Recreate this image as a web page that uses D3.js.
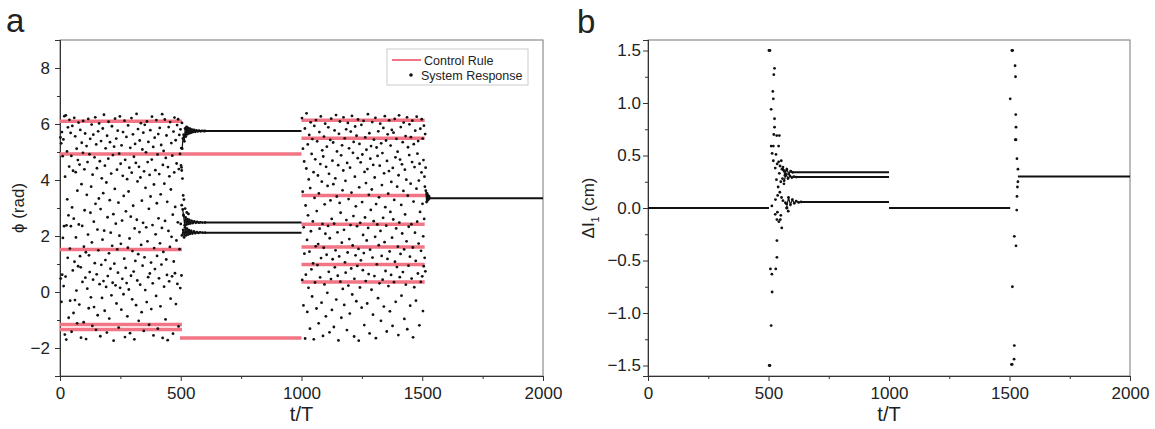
<!DOCTYPE html>
<meta charset="utf-8">
<head>
  <script src="https://d3js.org/d3.v7.min.js"></script>
  <style>
    body { margin: 0; background: #fff; }
    svg text { font-family: "Liberation Sans", Arial, sans-serif; fill: #222; }
    .tick text { font-size: 17px; }
    .ttl { font-size: 20px; }
    .ylab { font-size: 17px; }
    .pan { font-size: 33px; }
    .leg { font-size: 12.5px; }
  </style>
</head>
<body>
<svg id="fig" width="1155" height="429"></svg>
<script>
"use strict"

// ---- shared axis data ----
var tDomain = [0, 2000];
var tMajor = [0, 500, 1000, 1500, 2000];
var tMinor = [250, 750, 1250, 1750];

// ---- panel a: phase ----
var phiDomain = [-3, 9];
var phiMajor = [-2, 0, 2, 4, 6, 8];
var phiMinor = [-3, -1, 1, 3, 5, 7];

// control rule segments [t start, t end, phi]
var ruleA = [
  [0, 505, 6.1], [0, 1000, 4.93], [0, 505, 1.52], [0, 505, -1.16], [0, 505, -1.34],
  [497, 1000, -1.64],
  [1000, 1510, 6.13], [1000, 1510, 5.49], [1000, 1525, 3.45], [1000, 1510, 2.42],
  [1000, 1510, 1.61], [1000, 1510, 0.98], [1000, 1510, 0.36]
];

// settled response [t start, t end, phi]
var steadyA = [[600, 1000, 5.75], [600, 1000, 2.48], [600, 1000, 2.12], [1530, 2000, 3.35]];

// uncontrolled response, 0-500
var scatterA1 = [
  [2,5.52],[3,0.48],[5,5.31],[6,-0.35],[8,5.71],[9,0.62],[11,4.85],[12,1.93],[14,5.45],[15,0.21],
  [17,2.35],[18,6.28],[20,-1.52],[21,4.12],[23,0.55],[24,6.31],[26,-1.70],[27,2.38],[29,5.02],[30,3.31],
  [32,1.22],[33,5.88],[35,2.74],[36,-0.92],[38,4.48],[39,6.15],[41,1.55],[42,-0.31],[44,5.68],[45,2.35],
  [47,4.86],[48,-1.42],[50,3.02],[51,5.93],[53,0.77],[54,4.33],[56,-0.75],[57,2.62],[59,6.22],[60,1.08],
  [62,-0.29],[63,5.56],[65,4.28],[66,1.95],[68,0.05],[69,5.12],[71,-1.12],[72,3.62],[74,4.71],[75,0.92],
  [77,6.05],[78,2.41],[80,-0.45],[81,4.55],[83,1.28],[84,5.79],[86,0.88],[87,-1.63],[89,3.85],[90,5.33],
  [92,2.36],[93,0.36],[95,4.97],[96,6.11],[98,-1.08],[99,1.62],[101,4.38],[102,2.92],[104,5.66],[105,0.51],
  [107,1.42],[108,-1.68],[110,5.21],[111,3.47],[113,0.12],[114,4.64],[116,2.05],[117,6.18],[119,-0.58],[120,1.31],
  [122,4.92],[123,0.71],[125,5.47],[126,2.83],[128,-0.19],[129,3.76],[131,5.98],[132,1.77],[134,-1.21],[135,4.19],
  [137,0.44],[138,5.62],[140,2.51],[141,-0.54],[143,4.81],[144,1.03],[146,6.24],[147,3.15],[149,-1.35],[150,5.27],
  [152,0.63],[153,4.42],[155,2.23],[156,-0.83],[158,5.74],[159,1.49],[161,3.34],[162,6.02],[164,0.28],[165,4.67],
  [167,-1.58],[168,2.96],[170,5.39],[171,0.97],[173,4.06],[174,-0.21],[176,1.87],[177,5.84],[179,3.53],[180,0.39],
  [182,6.33],[183,2.19],[185,-0.67],[186,4.51],[188,1.14],[189,5.13],[191,0.18],[192,3.91],[194,-1.45],[195,5.58],
  [197,2.67],[198,0.57],[200,4.76],[201,6.08],[203,1.38],[204,-0.95],[206,3.28],[207,5.35],[209,0.83],[210,2.12],
  [212,4.23],[213,-0.12],[215,5.92],[216,1.65],[218,0.33],[219,4.89],[221,2.78],[222,-1.74],[224,5.19],[225,1.01],
  [227,3.68],[228,6.19],[230,0.24],[231,2.44],[233,5.48],[234,-0.41],[236,4.37],[237,1.52],[239,5.76],[240,0.69],
  [242,3.19],[243,-1.27],[245,4.94],[246,2.01],[248,6.27],[249,0.15],[251,4.58],[252,1.72],[254,-0.63],[255,5.24],
  [257,2.55],[258,0.47],[260,4.15],[261,5.71],[263,-0.08],[264,3.43],[266,1.19],[267,6.12],[269,-1.61],[270,4.72],
  [272,0.86],[273,2.88],[275,5.54],[276,0.32],[278,4.03],[279,-0.87],[281,1.58],[282,5.95],[284,3.59],[285,0.09],
  [287,4.44],[288,1.91],[290,-1.47],[291,5.15],[293,2.69],[294,0.58],[296,6.21],[297,4.26],[299,-0.26],[300,1.46],
  [302,5.63],[303,3.08],[305,0.73],[306,4.83],[308,-1.69],[309,2.27],[311,5.29],[312,1.11],[314,4.61],[315,-0.47],
  [317,6.36],[318,2.58],[320,0.41],[321,3.95],[323,5.82],[324,1.35],[326,-1.03],[327,4.47],[329,2.14],[330,5.41],
  [332,0.26],[333,4.09],[335,6.03],[336,1.68],[338,-0.72],[339,3.26],[341,5.09],[342,0.94],[344,2.47],[345,5.69],
  [347,-1.39],[348,4.31],[350,1.24],[351,5.97],[353,0.07],[354,3.72],[356,4.99],[357,2.31],[359,-0.36],[360,6.09],
  [362,1.81],[363,4.64],[365,0.53],[366,5.36],[368,2.97],[369,-1.17],[371,4.18],[372,0.66],[374,5.78],[375,3.41],
  [377,1.05],[378,-0.61],[380,4.73],[381,6.26],[383,2.39],[384,0.31],[386,5.18],[387,-1.55],[389,3.84],[390,1.57],
  [392,5.51],[393,0.82],[395,4.35],[396,2.06],[398,-0.14],[399,6.14],[401,3.17],[402,1.29],[404,4.91],[405,-1.31],
  [407,5.64],[408,2.63],[410,0.49],[411,4.21],[413,5.86],[414,1.74],[416,-0.51],[417,3.49],[419,5.25],[420,0.98],
  [422,2.29],[423,6.35],[425,-1.64],[426,4.54],[428,1.43],[429,5.04],[431,0.19],[432,3.87],[434,6.16],[435,2.54],
  [437,-0.98],[438,4.79],[440,1.16],[441,5.59],[443,0.61],[444,3.22],[446,-1.72],[447,4.46],[449,2.18],[450,5.89],
  [452,0.38],[453,4.13],[455,1.61],[456,6.07],[458,-0.24],[459,3.66],[461,5.32],[462,1.97],[464,0.56],[465,4.87],
  [467,2.76],[468,-1.49],[470,5.73],[471,1.09],[473,4.27],[474,6.23],[476,0.67],[477,3.04],[479,5.42],[480,-0.43],
  [482,1.84],[483,4.59],[485,5.96],[486,0.29],[488,2.49],[489,6.17],[491,-1.23],[492,4.39],[494,5.61],[495,1.53],
  [497,4.93],[498,0.14],[499,5.81],[500,2.43],[501,4.52],[502,5.14],[503,0.59],[504,4.34],[505,6.04]
];

// uncontrolled response, 1000-1510
var scatterA3 = [
  [1002,6.21],[1003,0.43],[1005,3.58],[1006,5.12],[1008,-0.48],[1009,2.31],[1011,4.66],[1012,1.37],[1014,5.84],[1015,-1.66],
  [1017,3.09],[1018,0.62],[1020,4.41],[1021,6.38],[1023,1.86],[1024,-0.71],[1026,5.27],[1027,2.74],[1029,0.15],[1030,4.02],
  [1032,5.61],[1033,1.44],[1035,-1.31],[1036,3.71],[1038,6.06],[1039,2.17],[1041,0.81],[1042,4.93],[1044,-0.16],[1045,5.46],
  [1047,2.52],[1048,1.02],[1050,4.28],[1051,-1.69],[1053,5.93],[1054,3.36],[1056,0.34],[1057,4.74],[1059,1.63],[1060,6.14],
  [1062,-0.59],[1063,2.89],[1065,5.38],[1066,0.96],[1068,4.16],[1069,1.71],[1071,-1.12],[1072,3.52],[1074,5.71],[1075,2.26],
  [1077,0.52],[1078,4.57],[1080,6.27],[1081,1.21],[1083,-0.38],[1084,3.94],[1086,5.06],[1087,2.43],[1089,-1.57],[1090,4.84],
  [1092,1.58],[1093,5.55],[1095,0.27],[1096,3.13],[1098,6.01],[1099,2.08],[1101,-0.87],[1102,4.47],[1104,1.33],[1105,5.19],
  [1107,-0.03],[1108,3.79],[1110,2.36],[1111,5.88],[1113,0.72],[1114,4.22],[1116,-1.44],[1117,1.92],[1119,5.43],[1120,3.27],
  [1122,0.46],[1123,6.19],[1125,2.61],[1126,-0.64],[1128,4.69],[1129,1.17],[1131,5.34],[1132,3.85],[1134,-1.25],[1135,2.44],
  [1137,5.77],[1138,0.88],[1140,4.06],[1141,1.49],[1143,6.32],[1144,-0.27],[1146,3.41],[1147,5.02],[1149,2.13],[1150,0.58],
  [1152,4.53],[1153,-1.73],[1155,5.65],[1156,1.27],[1158,3.18],[1159,6.09],[1161,0.37],[1162,2.83],[1164,4.88],[1165,-0.92],
  [1167,1.76],[1168,5.24],[1170,3.63],[1171,0.11],[1173,4.34],[1174,6.24],[1176,2.22],[1177,-0.46],[1179,5.49],[1180,1.06],
  [1182,3.97],[1183,0.69],[1185,5.81],[1186,2.57],[1188,-1.36],[1189,4.61],[1191,1.41],[1192,6.04],[1194,0.23],[1195,3.32],
  [1197,5.13],[1198,1.89],[1200,-0.77],[1201,4.44],[1203,2.39],[1204,5.73],[1206,0.84],[1207,3.55],[1209,6.29],[1210,-0.09],
  [1212,1.66],[1213,4.97],[1215,2.71],[1216,5.36],[1218,-1.59],[1219,0.47],[1221,4.12],[1222,5.91],[1224,1.31],[1225,3.06],
  [1227,-0.33],[1228,5.58],[1230,2.35],[1231,0.93],[1233,4.78],[1234,6.16],[1236,1.54],[1237,-1.74],[1239,3.74],[1240,5.29],
  [1242,0.16],[1243,2.47],[1245,4.63],[1246,1.13],[1248,5.97],[1249,-0.56],[1251,3.21],[1252,4.91],[1254,0.78],[1255,2.04],
  [1257,6.11],[1258,1.39],[1260,-1.18],[1261,4.29],[1263,2.66],[1264,5.52],[1266,0.39],[1267,3.89],[1269,5.08],[1270,1.84],
  [1272,-0.41],[1273,4.39],[1275,6.35],[1276,2.29],[1278,0.64],[1279,3.47],[1281,5.67],[1282,-1.48],[1284,1.51],[1285,4.76],
  [1287,2.93],[1288,5.21],[1290,0.08],[1291,3.66],[1293,6.07],[1294,1.23],[1296,-0.81],[1297,4.54],[1299,2.53],[1300,5.44],
  [1302,0.57],[1303,4.09],[1305,1.97],[1306,6.22],[1308,-1.65],[1309,3.14],[1311,5.16],[1312,0.99],[1314,2.41],[1315,4.86],
  [1317,-0.22],[1318,5.74],[1320,1.67],[1321,3.38],[1323,0.31],[1324,4.51],[1326,6.01],[1327,2.18],[1329,-1.03],[1330,5.31],
  [1332,1.29],[1333,3.82],[1335,4.96],[1336,0.44],[1338,2.65],[1339,5.86],[1341,-0.52],[1342,4.24],[1344,1.78],[1345,6.28],
  [1347,3.03],[1348,0.75],[1350,5.41],[1351,2.37],[1353,-1.41],[1354,4.68],[1356,1.18],[1357,5.63],[1359,3.51],[1360,0.21],
  [1362,4.32],[1363,6.13],[1365,1.45],[1366,-0.69],[1368,2.86],[1369,5.23],[1371,0.61],[1372,3.93],[1374,5.79],[1375,1.94],
  [1377,-1.21],[1378,4.43],[1380,2.59],[1381,5.69],[1383,0.35],[1384,3.29],[1386,6.18],[1387,1.08],[1389,4.81],[1390,-0.35],
  [1392,2.27],[1393,5.47],[1395,0.89],[1396,3.76],[1398,5.01],[1399,1.62],[1401,-1.54],[1402,4.17],[1404,6.31],[1405,2.48],
  [1407,0.53],[1408,4.73],[1410,1.36],[1411,5.89],[1413,3.11],[1414,-0.13],[1416,4.56],[1417,2.09],[1419,5.35],[1420,0.71],
  [1422,3.61],[1423,6.05],[1425,1.52],[1426,-0.96],[1428,4.37],[1429,2.77],[1431,5.57],[1432,0.26],[1434,4.01],[1435,1.81],
  [1437,6.24],[1438,-1.33],[1440,3.44],[1441,5.17],[1443,0.94],[1444,2.33],[1446,4.89],[1447,5.99],[1449,1.26],[1450,-0.49],
  [1452,3.87],[1453,5.53],[1455,2.42],[1456,0.48],[1458,4.64],[1459,6.12],[1461,1.59],[1462,-1.62],[1464,3.23],[1465,5.28],
  [1467,0.17],[1468,4.46],[1470,2.12],[1471,5.76],[1473,1.11],[1474,-0.31],[1476,3.69],[1477,6.26],[1479,2.51],[1480,4.94],
  [1482,0.66],[1483,5.39],[1485,1.73],[1486,3.98],[1488,-1.19],[1489,4.58],[1491,2.86],[1492,5.83],[1494,0.36],[1495,1.47],
  [1497,4.27],[1498,6.17],[1500,0.56],[1501,3.15],[1502,5.48],[1503,-0.68],[1504,1.99],[1505,4.71],[1506,0.92],[1507,5.94],
  [1508,2.61],[1509,4.12],[1510,1.22],[1511,3.76],[1512,5.64],[1513,0.74],[1514,4.44]
];

// transients after the control is switched on (drawn as linked dots)
var branchA = [
  [[506,5.12],[509,5.48],[512,5.62],[515,5.38],[518,5.84],[521,5.55],[524,5.90],[527,5.63],[530,5.86],[534,5.67],
   [538,5.83],[542,5.69],[546,5.80],[550,5.71],[555,5.79],[560,5.72],[565,5.77],[570,5.735],[576,5.765],[582,5.74],
   [588,5.755],[595,5.748],[600,5.75]],
  [[508,2.95],[512,2.72],[516,2.38],[520,2.66],[524,2.41],[528,2.60],[532,2.43],[536,2.57],[540,2.45],[545,2.54],
   [550,2.46],[556,2.52],[562,2.47],[568,2.50],[575,2.475],[582,2.49],[590,2.48],[600,2.483]],
  [[505,2.02],[510,2.22],[514,1.95],[518,2.31],[522,2.02],[526,2.26],[530,2.05],[534,2.21],[538,2.08],[543,2.18],
   [548,2.09],[554,2.16],[560,2.10],[566,2.14],[573,2.11],[580,2.13],[590,2.12],[600,2.12]],
  [[1515,3.62],[1518,3.21],[1520,3.52],[1522,3.27],[1524,3.45],[1526,3.31],[1528,3.41],[1530,3.35]]
];
var looseA = [[503,4.45],[504,3.10],[507,4.05],[510,3.45],[511,2.75],[513,3.30],[518,2.98],[525,2.84],[532,2.79]];

// ---- panel b: length change ----
var dlDomain = [-1.6, 1.6];
var dlMajor = [-1.5, -1.0, -0.5, 0.0, 0.5, 1.0, 1.5];
var dlMinor = [-1.25, -0.75, -0.25, 0.25, 0.75, 1.25];

var steadyB = [[0, 502, 0], [600, 1000, 0.34], [615, 1000, 0.295], [635, 1000, 0.057], [1000, 1503, 0], [1535, 2000, 0.30]];

var transientB1 = [
  [502,1.5],[506,1.5],[525,1.33],[522,1.27],[518,1.11],[520,1.04],[511,0.94],[525,0.85],[525,0.77],[522,0.70],
  [534,0.69],[545,0.69],[511,0.59],[520,0.59],[542,0.59],[515,0.52],[531,0.51],[520,0.45],[542,0.44],[553,0.45],
  [536,0.42],[548,0.40],[528,0.38],[556,0.37],[562,0.36],[545,0.33],[567,0.35],[533,0.27],[551,0.25],[558,0.28],
  [540,0.20],[564,0.23],[547,0.15],[538,0.12],[554,0.10],[529,0.08],[560,0.07],[570,0.05],[514,0.02],[537,-0.04],
  [551,-0.07],[528,-0.06],[535,-0.11],[549,-0.11],[543,-0.13],[555,-0.19],[535,-0.31],[535,-0.47],[530,-0.58],[508,-0.58],
  [514,-0.63],[515,-0.80],[511,-1.12],[503,-1.5],[506,-1.5],[577,0.00],[582,-0.03],[574,0.04]
];
var branchB = [
  [[560,0.39],[568,0.31],[576,0.37],[584,0.325],[592,0.35],[600,0.34]],
  [[565,0.26],[573,0.32],[581,0.28],[589,0.305],[597,0.29],[605,0.298],[615,0.295]],
  [[575,0.00],[583,0.10],[591,0.03],[599,0.08],[607,0.045],[615,0.065],[625,0.053],[635,0.058]]
];
var transientB3 = [
  [1510,1.5],[1513,1.5],[1523,1.355],[1525,1.25],[1503,1.04],[1526,0.89],[1527,0.77],[1524,0.65],[1527,0.65],[1531,0.47],
  [1535,0.37],[1535,0.25],[1533,0.20],[1531,0.11],[1530,-0.02],[1520,-0.27],[1527,-0.36],[1512,-0.75],[1520,-1.31],[1519,-1.44],
  [1508,-1.49],[1511,-1.49]
];

var red = '#f27585';
var svg = d3.select('#fig');

var xA = d3.scaleLinear().domain(tDomain).range([60, 543]);
var yA = d3.scaleLinear().domain(phiDomain).range([376, 40]);
var xB = d3.scaleLinear().domain(tDomain).range([648, 1130]);
var yB = d3.scaleLinear().domain(dlDomain).range([376, 40]);

function drawFrame(x, y, yMajor, yMinor, yFmt, yPad) {
  var xr = x.range(), yr = y.range();
  svg.append('rect')
     .attr('x', xr[0]).attr('y', yr[1])
     .attr('width', xr[1] - xr[0]).attr('height', yr[0] - yr[1])
     .attr('fill', 'none').attr('stroke', '#777');

  var gx = svg.append('g').attr('transform', 'translate(0,' + yr[0] + ')');
  gx.call(d3.axisBottom(x).tickValues(tMajor).tickSize(5).tickPadding(6).tickFormat(d3.format('d')));
  gx.append('g').call(d3.axisBottom(x).tickValues(tMinor).tickSize(3).tickFormat(''));

  var gy = svg.append('g').attr('transform', 'translate(' + xr[0] + ',0)');
  gy.call(d3.axisLeft(y).tickValues(yMajor).tickSize(5).tickPadding(yPad).tickFormat(yFmt));
  gy.append('g').call(d3.axisLeft(y).tickValues(yMinor).tickSize(3).tickFormat(''));

  svg.selectAll('.domain').attr('stroke', '#333');
  svg.selectAll('.tick line').attr('stroke', '#333');
}

function drawSegments(x, y, segs, color, width) {
  svg.append('g').selectAll('line')
     .data(segs).enter()
     .append('line')
     .attr('x1', function(d) { return x(d[0]); })
     .attr('x2', function(d) { return x(d[1]); })
     .attr('y1', function(d) { return y(d[2]); })
     .attr('y2', function(d) { return y(d[2]); })
     .attr('stroke', color)
     .attr('stroke-width', width);
}

function drawDots(x, y, pts) {
  svg.append('g').selectAll('circle')
     .data(pts).enter()
     .append('circle')
     .attr('cx', function(d) { return x(d[0]); })
     .attr('cy', function(d) { return y(d[1]); })
     .attr('r', 1.4)
     .attr('fill', '#111');
}

function drawBranches(x, y, branches) {
  var line = d3.line().x(function(d) { return x(d[0]); }).y(function(d) { return y(d[1]); });
  svg.append('g').selectAll('path')
     .data(branches).enter()
     .append('path')
     .attr('d', line)
     .attr('fill', 'none')
     .attr('stroke', '#111')
     .attr('stroke-width', 1.2);
  branches.forEach(function(b) { drawDots(x, y, b); });
}

// panel a
drawFrame(xA, yA, phiMajor, phiMinor, d3.format('d'), 5);
drawSegments(xA, yA, ruleA, red, 3.5);
drawDots(xA, yA, scatterA1);
drawDots(xA, yA, scatterA3);
drawDots(xA, yA, looseA);
drawBranches(xA, yA, branchA);
drawSegments(xA, yA, steadyA, '#111', 2);

// panel b
drawFrame(xB, yB, dlMajor, dlMinor, d3.format('.1f'), 2);
drawSegments(xB, yB, steadyB, '#111', 2);
drawDots(xB, yB, transientB1);
drawBranches(xB, yB, branchB);
drawDots(xB, yB, transientB3);

// titles
svg.append('text').attr('class', 'pan').attr('x', 6).attr('y', 32).text('a');
svg.append('text').attr('class', 'pan').attr('x', 577).attr('y', 33).text('b');

svg.append('text').attr('class', 'ttl').attr('text-anchor', 'middle')
   .attr('x', xA(1000)).attr('y', 421).text('t/T');
svg.append('text').attr('class', 'ttl').attr('text-anchor', 'middle')
   .attr('x', xB(1000)).attr('y', 421).text('t/T');

svg.append('text').attr('class', 'ylab').attr('text-anchor', 'middle')
   .attr('transform', 'translate(24,' + yA(3) + ') rotate(-90)')
   .text('ϕ (rad)');

var yl = svg.append('text').attr('class', 'ylab').attr('text-anchor', 'middle')
   .attr('transform', 'translate(594,' + yB(0) + ') rotate(-90)');
yl.append('tspan').text('ΔI');
yl.append('tspan').attr('font-size', '11px').attr('dy', 5).text('1');
yl.append('tspan').attr('dy', -5).text(' (cm)');

// legend
var leg = svg.append('g');
leg.append('rect').attr('x', 387).attr('y', 49).attr('width', 141).attr('height', 36)
   .attr('fill', '#fff').attr('stroke', '#ccc');
leg.append('line').attr('x1', 392).attr('x2', 421).attr('y1', 60).attr('y2', 60)
   .attr('stroke', red).attr('stroke-width', 2);
leg.append('text').attr('class', 'leg').attr('x', 424).attr('y', 65).text('Control Rule');
leg.append('circle').attr('cx', 411).attr('cy', 75).attr('r', 1.8).attr('fill', '#111');
leg.append('text').attr('class', 'leg').attr('x', 421).attr('y', 80).text('System Response');
</script>
</body>
</html>
